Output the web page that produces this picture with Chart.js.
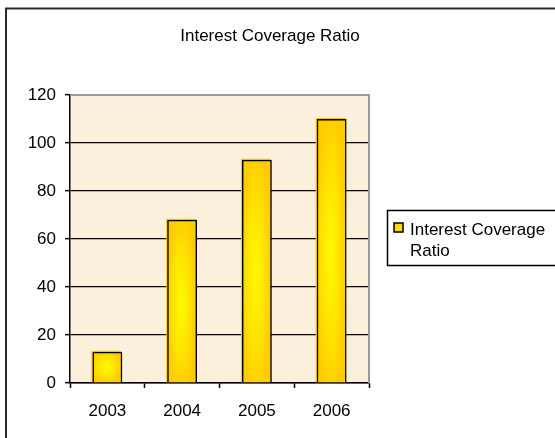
<!DOCTYPE html>
<html>
<head>
<meta charset="utf-8">
<title>Interest Coverage Ratio</title>
<script src="https://cdn.jsdelivr.net/npm/chart.js@4/dist/chart.umd.min.js"></script>
<style>
  html, body { margin: 0; padding: 0; background: #ffffff; }
  #wrap { width: 555px; height: 438px; position: relative; }
</style>
</head>
<body>
<div id="wrap"><canvas id="chart" width="555" height="438"></canvas></div>
<script>
const chartTitle = 'Interest Coverage Ratio';
const seriesName = 'Interest Coverage Ratio';
const legendLines = ['Interest Coverage', 'Ratio'];
const categories = ['2003', '2004', '2005', '2006'];
const values = [13, 68, 93, 110];
const yMin = 0;
const yMax = 120;
const yStep = 20;

const FONT = '"Liberation Sans", Arial, sans-serif';

// Frame, parchment plot background and plot border
const framePlugin = {
  id: 'frame',
  beforeDraw(chart) {
    const { ctx, chartArea: a } = chart;
    ctx.save();
    ctx.fillStyle = '#ffffff';
    ctx.fillRect(0, 0, chart.width, chart.height);
    ctx.fillStyle = '#FAF0DB';
    ctx.fillRect(a.left, a.top, a.right - a.left, a.bottom - a.top);
    ctx.restore();
  },
  afterDraw(chart) {
    const { ctx, chartArea: a } = chart;
    ctx.save();
    // plot area border (top and right)
    ctx.strokeStyle = '#9a9a9a';
    ctx.lineWidth = 2;
    ctx.beginPath();
    ctx.moveTo(a.left, a.top);
    ctx.lineTo(a.right, a.top);
    ctx.lineTo(a.right, a.bottom);
    ctx.stroke();
    // outer chart border
    ctx.strokeStyle = '#2a2a2a';
    ctx.lineWidth = 2;
    ctx.strokeRect(6, 8.5, 700, 600);
    // title
    ctx.fillStyle = '#000';
    ctx.font = '17px ' + FONT;
    ctx.textAlign = 'center';
    ctx.textBaseline = 'alphabetic';
    ctx.fillText(chartTitle, 270, 41);
    // legend box
    ctx.strokeStyle = '#000';
    ctx.lineWidth = 1.5;
    ctx.strokeRect(387.5, 210.5, 300, 55);
    ctx.fillStyle = '#FFD700';
    ctx.fillRect(394, 223, 9, 9);
    ctx.lineWidth = 1.5;
    ctx.strokeRect(394, 223, 9, 9);
    ctx.fillStyle = '#000';
    ctx.textAlign = 'left';
    ctx.fillText(legendLines[0], 410, 235);
    ctx.fillText(legendLines[1], 410, 256);
    ctx.restore();
  }
};

// Golden path-gradient fill under each bar's outline
const barFillPlugin = {
  id: 'barFill',
  beforeDatasetsDraw(chart) {
    const ctx = chart.ctx;
    chart.getDatasetMeta(0).data.forEach(bar => {
      const { x, y, base, width } = bar.getProps(['x', 'y', 'base', 'width'], true);
      const h = base - y;
      const left = x - width / 2 - 1;
      const top = y - 1;
      ctx.save();
      ctx.beginPath();
      ctx.rect(left, top, width, h + 1);
      ctx.clip();
      ctx.translate(left + width / 2, top + h * 0.52);
      ctx.scale(width / 2, h * 0.55);
      const g = ctx.createRadialGradient(0, 0, 0, 0, 0, 1);
      g.addColorStop(0, '#FFFA00');
      g.addColorStop(0.55, '#FFE400');
      g.addColorStop(1, '#FFCC00');
      ctx.fillStyle = g;
      ctx.fillRect(-2, -2, 4, 4);
      ctx.restore();
    });
  }
};

new Chart(document.getElementById('chart'), {
  type: 'bar',
  data: {
    labels: categories,
    datasets: [{
      label: seriesName,
      data: values,
      backgroundColor: 'rgba(0,0,0,0)',
      borderColor: '#000000',
      borderWidth: 1.5,
      borderSkipped: 'start',
      categoryPercentage: 0.4,
      barPercentage: 1.0
    }]
  },
  options: {
    responsive: false,
    animation: false,
    events: [],
    layout: { padding: { left: 0, top: 95, right: 186, bottom: 0 } },
    plugins: {
      legend: { display: false },
      title: { display: false },
      tooltip: { enabled: false }
    },
    scales: {
      x: {
        afterFit(scale) { scale.height = 55; },
        grid: {
          offset: true,
          drawOnChartArea: false,
          drawTicks: true,
          tickLength: 5,
          tickColor: '#000',
          tickWidth: 1.5
        },
        border: { display: true, color: '#000', width: 1.5 },
        ticks: {
          color: '#000',
          font: { family: FONT, size: 17 },
          padding: 13,
          maxRotation: 0
        }
      },
      y: {
        min: yMin,
        max: yMax,
        afterFit(scale) { scale.width = 70; },
        grid: {
          color: ctx => (ctx.tick && ctx.tick.value === yMax) ? 'rgba(0,0,0,0)' : '#000',
          lineWidth: 1.3,
          drawTicks: true,
          tickLength: 5,
          tickColor: '#000',
          tickWidth: 1.5
        },
        border: { display: true, color: '#000', width: 1.5 },
        ticks: {
          stepSize: yStep,
          color: '#000',
          font: { family: FONT, size: 17 },
          padding: 9
        }
      }
    }
  },
  plugins: [framePlugin, barFillPlugin]
});
</script>
</body>
</html>
